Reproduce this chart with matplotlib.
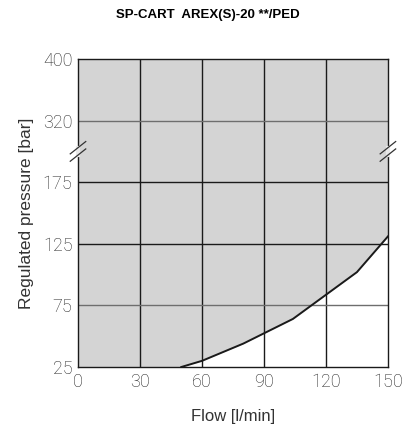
import numpy as np
import matplotlib
matplotlib.use("Agg")
import matplotlib.pyplot as plt

# curve
flow = [50, 60, 80, 104, 135, 150]
pressure = [25, 30, 44, 64, 102, 131]

x_ticks = [0, 30, 60, 90, 120, 150]
y_ticks = [25, 75, 125, 175, 320, 400]
gray_lines = [75, 320]

# broken pressure axis: every tick gets one equal slot
slots = np.arange(len(y_ticks), dtype=float)


def fwd(p):
    return np.interp(p, y_ticks, slots, left=-1, right=6)


def inv(s):
    return np.interp(s, slots, y_ticks)


plt.rcParams['font.family'] = ['Roboto', 'DejaVu Sans']

fig = plt.figure(figsize=(4.16, 4.30), dpi=100)
ax = fig.add_axes([0.1875, 0.1465, 0.745, 0.7163])
ax.set_yscale('function', functions=(fwd, inv))
ax.set_xlim(0, 150)
ax.set_ylim(25, 400)
ax.set_facecolor('#d4d4d4')

ax.fill_between(flow, 25, pressure, color='white', zorder=1, lw=0)
ax.fill_between([flow[-1], 150], 25, 400, color='white', zorder=1, lw=0)

for v in x_ticks[1:-1]:
    ax.axvline(v, color='#1a1a1a', lw=1.0, zorder=2)
for v in y_ticks[1:-1]:
    c = '#6e6e6e' if v in gray_lines else '#1a1a1a'
    ax.axhline(v, color=c, lw=1.0, zorder=2)

ax.plot(flow, pressure, color='#1a1a1a', lw=1.4, zorder=3)

ax.set_xticks(x_ticks)
ax.set_yticks(y_ticks)
ax.set_xticklabels([str(v) for v in x_ticks], fontsize=13, fontweight='light', color='#222222')
ax.set_yticklabels([str(v) for v in y_ticks], fontsize=13, fontweight='light', color='#222222')
ax.tick_params(length=0, pad=4)
for s in ax.spines.values():
    s.set_color('#1a1a1a')
    s.set_linewidth(1.0)

# break marks on both sides at the 175-320 gap
yb = fwd(247.5) / 5.0
for xb in (0.0, 1.0):
    ax.plot([xb, xb], [yb - 0.012, yb + 0.012], transform=ax.transAxes,
            color='#e8e8e8', lw=3, clip_on=False, zorder=5)
    for dy in (-0.012, 0.012):
        ax.plot([xb - 0.025, xb + 0.025], [yb + dy - 0.02, yb + dy + 0.02],
                transform=ax.transAxes, color='#333333', lw=0.9,
                clip_on=False, zorder=6)

ax.set_xlabel('Flow [l/min]', fontsize=12, labelpad=13, color='#333333',
              family='Liberation Sans')
ax.set_ylabel('Regulated pressure [bar]', fontsize=12.5, labelpad=6, color='#333333',
              family='Liberation Sans')
fig.text(0.5, 0.965, 'SP-CART  AREX(S)-20 **/PED', ha='center', va='center',
         fontsize=9.5, fontweight='bold', family='Liberation Sans')

fig.savefig('out.png', dpi=100)
